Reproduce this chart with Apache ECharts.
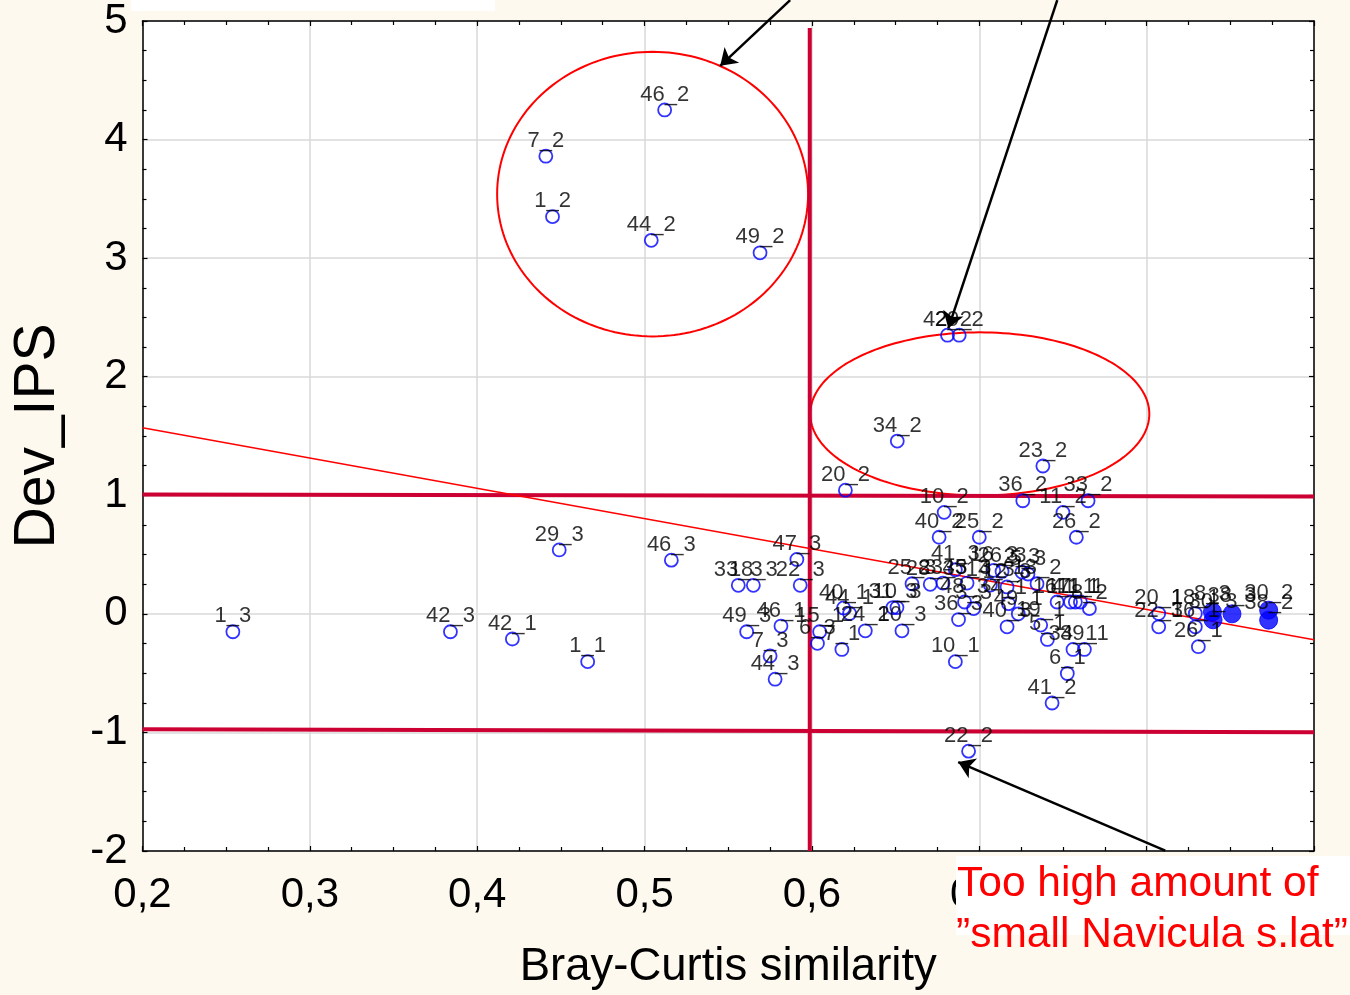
<!DOCTYPE html>
<html>
<head>
<meta charset="utf-8">
<script src="https://cdn.jsdelivr.net/npm/echarts@6/dist/echarts.min.js"></script>
<style>
  html, body { margin: 0; padding: 0; background: #fef9ef; }
  #chart { width: 1350px; height: 995px; }
</style>
</head>
<body>
<div id="chart"></div>
<script>
// Sample points: site_period names, Bray-Curtis similarity (x) and Dev_IPS (y)
const openNames = [
  '46_2','7_2','1_2','44_2','49_2',
  '42_2','29_2','34_2','23_2','20_2','36_2','33_2','11_2','10_2','40_2','25_2','26_2',
  '1_3','42_3','42_1','1_1','29_3','46_3',
  '47_3','33_3','18_3','22_3','49_3','46_1','7_3','44_3','15_1','6_3','7_1',
  '40_1','44_1','24_1','31_3','10_3','20_3','25_3','28_3','23_3','41_3','36_3','48_3','3_3','45_3',
  '16_3','26_3','14_3','12_3','2_3','5_3','13_2','4_1','40_3','49_1','19_1','5_1',
  '16_1','17_1','41_1','11_1','8_2','34_1','39_1','10_1','6_1','41_2','22_2',
  '20_1','22_1','18_1','36_1','26_1'
];
const openX = [
  0.512, 0.441, 0.445, 0.504, 0.569,
  0.681, 0.688, 0.651, 0.738, 0.620, 0.726, 0.765, 0.750, 0.679, 0.676, 0.700, 0.758,
  0.254, 0.384, 0.421, 0.466, 0.449, 0.516,
  0.591, 0.556, 0.565, 0.593, 0.561, 0.5815, 0.575, 0.578, 0.6046, 0.6033, 0.6179,
  0.6189, 0.6225, 0.6319, 0.6484, 0.6508, 0.6538, 0.6598, 0.6707, 0.6783, 0.6857, 0.6876, 0.6912, 0.6966, 0.6927,
  0.7086, 0.7136, 0.7066, 0.7166, 0.7255, 0.7291, 0.7345, 0.7175, 0.7166, 0.7233, 0.7367, 0.7407,
  0.7465, 0.7545, 0.7574, 0.7604, 0.7658, 0.756, 0.7628, 0.6857, 0.7526, 0.7435, 0.6936,
  0.8072, 0.8072, 0.8291, 0.8291, 0.8309
];
const openY = [
  4.25, 3.86, 3.35, 3.15, 3.045,
  2.35, 2.35, 1.457, 1.247, 1.043, 0.954, 0.954, 0.856, 0.856, 0.646, 0.646, 0.646,
  -0.151, -0.151, -0.212, -0.403, 0.539, 0.453,
  0.459, 0.241, 0.241, 0.241, -0.151, -0.103, -0.355, -0.551, -0.151, -0.249, -0.30,
  0.05, 0.003, -0.143, 0.053, 0.053, -0.143, 0.254, 0.249, 0.26, 0.372, -0.048, 0.10, 0.044, 0.26,
  0.367, 0.358, 0.243, 0.227, 0.352, 0.336, 0.254, 0.086, -0.109, 0.0, -0.095, -0.216,
  0.10, 0.10, 0.10, 0.10, 0.044, -0.30, -0.30, -0.403, -0.503, -0.752, -1.158,
  0.0025, -0.109, 0.0025, -0.109, -0.277
];
const filledNames = ['30_3','8_3','38_3','30_2','38_2'];
const filledX = [0.8397, 0.8393, 0.851, 0.8729, 0.8729];
const filledY = [-0.05, 0.017, 0.0, 0.031, -0.053];

// Trend line end points
const trendX = [0.2, 0.9];
const trendY = [1.569, -0.218];

// Reference limits: Dev_IPS = +1 / -1 and similarity cut-off
const upperLimitY = [1.007, 0.99];
const lowerLimitY = [-0.973, -0.998];
const limitX = [0.2, 0.9];
const cutoffX = 0.5987;
const cutoffY = [-2, 4.94];

// Highlight ellipses: centre x, centre y, half-width, half-height (data units)
const ellipseCx = [0.5048, 0.7003];
const ellipseCy = [3.54, 1.686];
const ellipseRx = [0.0929, 0.1013];
const ellipseRy = [1.2, 0.688];

// Annotation arrows (tail -> head, data units)
const arrowFrom = [[0.587, 5.176], [0.7466, 5.176], [0.8111, -1.997]];
const arrowTo = [[0.5452, 4.622], [0.6815, 2.408], [0.6874, -1.25]];

const xTickLabels = { '0.2': '0,2', '0.3': '0,3', '0.4': '0,4', '0.5': '0,5', '0.6': '0,6', '0.7': '0,7', '0.8': '0,8', '0.9': '0,9' };

const FONT = "'Liberation Sans', Arial, sans-serif";

const zip = (names, xs, ys) => names.map((n, i) => ({ name: n, value: [xs[i], ys[i]] }));

const chart = echarts.init(document.getElementById('chart'));

const axisCommon = {
  axisLine: { show: true, onZero: false, lineStyle: { color: '#000', width: 1.5 } },
  axisTick: { show: true, inside: true, length: 5, lineStyle: { color: '#000', width: 1.2 } },
  minorTick: { show: true, splitNumber: 4, length: 4, lineStyle: { color: '#000', width: 1.2 } }
};

const labelStyle = {
  show: true,
  position: 'top',
  distance: -3,
  color: '#000',
  fontFamily: FONT,
  fontSize: 22,
  formatter: p => p.name
};

chart.setOption({
  animation: false,
  backgroundColor: '#fef9ef',
  grid: { left: 142.5, right: 36, top: 21, bottom: 140, show: true, backgroundColor: '#ffffff', borderWidth: 0 },
  xAxis: [
    Object.assign({
      type: 'value', min: 0.2, max: 0.9, interval: 0.1, position: 'bottom',
      name: 'Bray-Curtis similarity', nameLocation: 'middle', nameGap: 93,
      nameTextStyle: { fontFamily: FONT, fontSize: 45.5, color: '#000' },
      axisLabel: {
        margin: 23, color: '#000', fontFamily: FONT, fontSize: 42,
        formatter: v => xTickLabels[v.toFixed(1)] || v.toFixed(1).replace('.', ',')
      },
      splitLine: { show: true, lineStyle: { color: '#d9d9d9', width: 1.5 } }
    }, axisCommon),
    Object.assign({
      type: 'value', min: 0.2, max: 0.9, interval: 0.1, position: 'top',
      axisLabel: { show: false }, splitLine: { show: false }
    }, axisCommon)
  ],
  yAxis: [
    Object.assign({
      type: 'value', min: -2, max: 5, interval: 1, position: 'left',
      name: 'Dev_IPS', nameLocation: 'middle', nameGap: 76, nameRotate: 90,
      nameTextStyle: { fontFamily: FONT, fontSize: 57, color: '#000' },
      axisLabel: { margin: 15, color: '#000', fontFamily: FONT, fontSize: 42 },
      splitLine: { show: true, lineStyle: { color: '#d9d9d9', width: 1.5 } }
    }, axisCommon),
    Object.assign({
      type: 'value', min: -2, max: 5, interval: 1, position: 'right',
      axisLabel: { show: false }, splitLine: { show: false }
    }, axisCommon)
  ],
  series: [
    {
      name: 'ellipses', type: 'custom', coordinateSystem: 'cartesian2d', z: 3,
      encode: { x: 0, y: 1 },
      data: ellipseCx.map((cx, i) => [cx, ellipseCy[i], ellipseRx[i], ellipseRy[i]]),
      renderItem: (params, api) => {
        const c = api.coord([api.value(0), api.value(1)]);
        const s = api.size([api.value(2), api.value(3)]);
        const pts = [];
        for (let k = 0; k < 180; k++) {
          const t = k / 180 * Math.PI * 2;
          pts.push([c[0] + s[0] * Math.cos(t), c[1] + s[1] * Math.sin(t)]);
        }
        return { type: 'polygon', shape: { points: pts }, style: { fill: 'none', stroke: '#ff0000', lineWidth: 2 } };
      }
    },
    {
      name: 'upper limit', type: 'line', showSymbol: false, z: 3,
      data: limitX.map((x, i) => [x, upperLimitY[i]]),
      lineStyle: { color: '#cc0033', width: 4 }
    },
    {
      name: 'lower limit', type: 'line', showSymbol: false, z: 3,
      data: limitX.map((x, i) => [x, lowerLimitY[i]]),
      lineStyle: { color: '#cc0033', width: 4 }
    },
    {
      name: 'cut-off', type: 'line', showSymbol: false, z: 3,
      data: cutoffY.map(y => [cutoffX, y]),
      lineStyle: { color: '#cc0033', width: 4 }
    },
    {
      name: 'trend', type: 'line', showSymbol: false, z: 4,
      data: trendX.map((x, i) => [x, trendY[i]]),
      lineStyle: { color: '#ff0000', width: 1.5 }
    },
    {
      name: 'samples', type: 'scatter', z: 5,
      symbol: 'circle', symbolSize: 13,
      itemStyle: { color: 'rgba(0,0,0,0)', borderColor: '#0000ff', borderWidth: 1.8 },
      label: labelStyle,
      data: zip(openNames, openX, openY)
    },
    {
      name: 'samples (filled)', type: 'scatter', z: 5,
      symbol: 'circle', symbolSize: 18,
      itemStyle: { color: '#0000ff', borderColor: '#0000ff', borderWidth: 1 },
      label: labelStyle,
      data: zip(filledNames, filledX, filledY)
    },
    {
      name: 'arrows', type: 'lines', coordinateSystem: 'cartesian2d', clip: false, z: 8,
      symbol: ['none', 'arrow'], symbolSize: 16,
      lineStyle: { color: '#000', width: 2.5, opacity: 1, curveness: 0 },
      data: arrowFrom.map((f, i) => ({ coords: [f, arrowTo[i]] }))
    }
  ],
  graphic: [
    { type: 'rect', z: 100, shape: { x: 131, y: 0, width: 364, height: 11 }, style: { fill: '#ffffff' } },
    { type: 'rect', z: 100, shape: { x: 956, y: 856, width: 394, height: 79 }, style: { fill: '#ffffff' } },
    { type: 'text', z: 101, left: 957, top: 863, style: { text: 'Too high amount of', fill: '#ff0000', font: "42.5px 'Liberation Sans', Arial, sans-serif" } },
    { type: 'text', z: 101, left: 956, top: 914, style: { text: '\u201dsmall Navicula s.lat\u201d', fill: '#ff0000', font: "42.5px 'Liberation Sans', Arial, sans-serif" } }
  ]
});
</script>
</body>
</html>
